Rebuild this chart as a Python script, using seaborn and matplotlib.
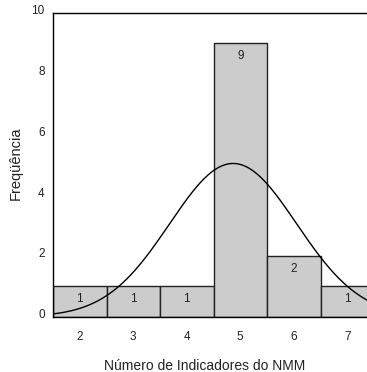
import numpy as np
import pandas as pd
import matplotlib
matplotlib.use("Agg")
import matplotlib.pyplot as plt
import matplotlib.transforms as mtransforms
import seaborn as sns

categories = [2, 3, 4, 5, 6, 7]
counts = [1, 1, 1, 9, 2, 1]
y_ticks = [0, 2, 4, 6, 8, 10]
x_label = "Número de Indicadores do NMM"
y_label = "Freqüência"

sns.set_style("white")
plt.rcParams['font.family'] = ['Liberation Sans', 'DejaVu Sans']

obs = np.repeat(categories, counts)
df = pd.DataFrame({"n": obs})

W, H = 367, 372
fig = plt.figure(figsize=(W / 100, H / 100), dpi=100)
ax_h = 304
ax = fig.add_axes([53 / W, (H - 316.7) / H, 314 / W, ax_h / H])

sns.histplot(data=df, x="n", discrete=True, shrink=1, color="#cccccc",
             edgecolor="#222222", linewidth=1.0, alpha=1, ax=ax)

# normal curve fitted to data
mu = obs.mean()
sd = obs.std(ddof=1)
xs = np.linspace(1.5, 7.5, 400)
ys = len(obs) * 1.0 / (sd * np.sqrt(2 * np.pi)) * np.exp(-0.5 * ((xs - mu) / sd) ** 2)
sns.lineplot(x=xs, y=ys, color="black", linewidth=1.0, ax=ax)

for c in ax.containers:
    ax.bar_label(c, labels=[str(v) for v in counts], label_type="edge",
                 padding=-13.5, fontsize=8.5, color="#222222")

ax.set_xlim(1.5, 1.5 + 314 / 53.5)
ax.set_ylim(0, 10)
ax.set_xticks(categories)
ax.set_yticks(y_ticks)
ax.tick_params(axis="both", length=0, labelsize=8.5, colors="#222222")
ax.tick_params(axis="x", pad=10)
ax.tick_params(axis="y", pad=6)
shift = mtransforms.ScaledTranslation(0, 3 / 100, fig.dpi_scale_trans)
for lab in ax.get_yticklabels():
    lab.set_transform(lab.get_transform() + shift)
ax.set_xlabel(x_label, fontsize=10, color="#222222", va="center")
ax.set_ylabel(y_label, fontsize=10.5, color="#222222", va="center")
ax.xaxis.set_label_coords((205 - 53) / 314, (316.7 - 366) / ax_h)
ax.yaxis.set_label_coords((15.5 - 53) / 314, (316.7 - 163.5) / ax_h)
for s in ["left", "top", "bottom"]:
    ax.spines[s].set_color("black")
    ax.spines[s].set_linewidth(1.0)
ax.spines["right"].set_visible(False)

fig.savefig("out.png", dpi=100)
